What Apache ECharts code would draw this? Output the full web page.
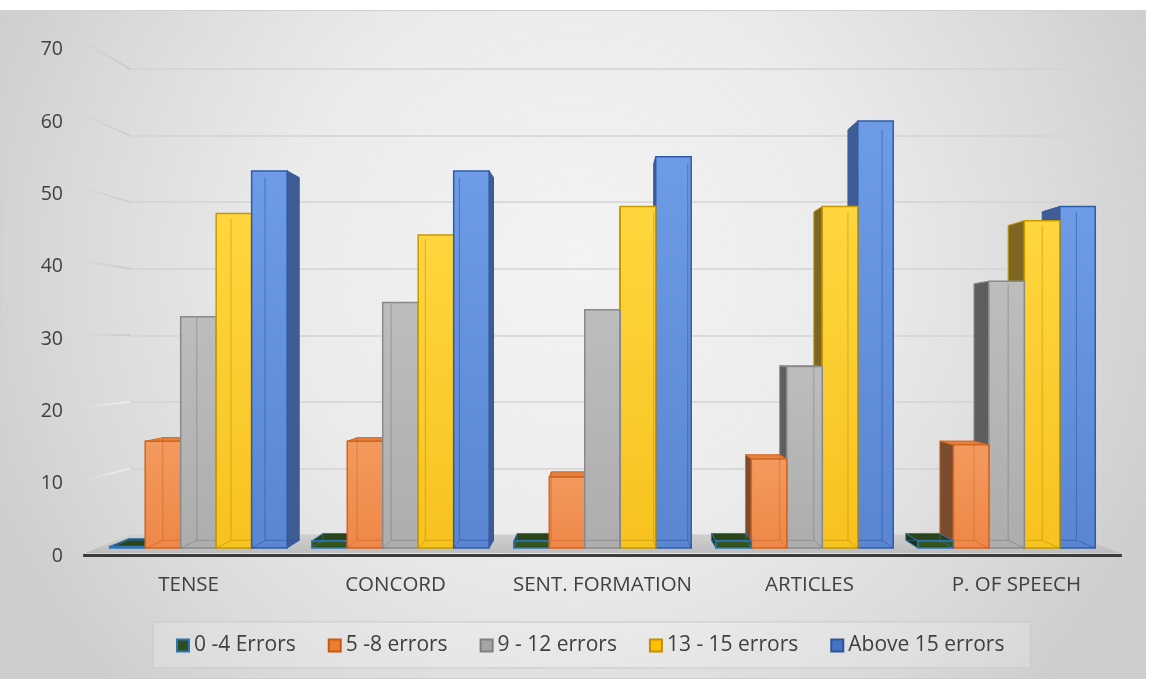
<!DOCTYPE html>
<html>
<head>
<meta charset="utf-8">
<script src="https://cdn.jsdelivr.net/npm/echarts@6/dist/echarts.min.js"></script>
<style>
  html, body { margin: 0; padding: 0; background: #ffffff; }
  #chart { width: 1153px; height: 679px; }
</style>
</head>
<body>
<div id="chart"></div>
<script>
// ---- data ----
const categories = ['TENSE', 'CONCORD', 'SENT. FORMATION', 'ARTICLES', 'P. OF SPEECH'];
const seriesNames = ['0 -4 Errors', '5 -8 errors', '9 - 12 errors', '13 - 15 errors', 'Above 15 errors'];
const errors0to4 = [0, 1, 1, 1, 1];
const errors5to8 = [15, 15, 10, 12.5, 14.5];
const errors9to12 = [32.5, 34.5, 33.5, 25.5, 37.5];
const errors13to15 = [47, 44, 48, 48, 46];
const errorsAbove15 = [53, 53, 55, 60, 48];
const yTicks = [0, 10, 20, 30, 40, 50, 60, 70];

const seriesValues = [errors0to4, errors5to8, errors9to12, errors13to15, errorsAbove15];

// ---- styling ----
const FONT = '"Open Sans", Lato, sans-serif';
const TEXT_COLOR = '#404040';
const PALETTE = [
  { face: '#2F4D1D', light: '#365820', top: '#2A4419', side: '#1E3311', border: '#2E75B6', edge: 'rgba(46,117,182,0.6)' },
  { face: '#EE8748', light: '#F39A5E', top: '#E58040', side: '#7B4C2F', border: '#D2651F', edge: 'rgba(196,92,26,0.45)' },
  { face: '#ADADAD', light: '#BDBDBD', top: '#A8A8A8', side: '#5E5E5E', border: '#8A8A8A', edge: 'rgba(110,110,110,0.45)' },
  { face: '#F8C21F', light: '#FFD63E', top: '#F0BC1A', side: '#7D6522', border: '#C49A00', edge: 'rgba(180,138,0,0.5)' },
  { face: '#5A86D1', light: '#6E9BE6', top: '#5581CC', side: '#3F5D94', border: '#2F5CA8', edge: 'rgba(36,76,156,0.5)' }
];
const LEGEND_COLORS = [
  { color: '#2F4D1D', borderColor: '#2E75B6' },
  { color: '#ED7D31', borderColor: '#C55A11' },
  { color: '#A5A5A5', borderColor: '#7F7F7F' },
  { color: '#FFC000', borderColor: '#BF9000' },
  { color: '#4472C4', borderColor: '#2F5597' }
];

// ---- simple perspective: back wall = cartesian grid, nearer planes scaled about a vanishing point ----
const HORIZON = 0.594;      // vanishing point height as a fraction of the plot
const S_FRONT = 1.069;      // bar front faces
const S_BACK = 1.028;       // bar back faces
const S_FLOOR = 1.095;      // front edge of the floor
const S_LABEL = 1.086;      // value-label spacing on the side wall
const GROUP_FRAC = 0.878;   // share of a category band used by its bars
const MIN_H = 1.5;          // thinnest visible slab

function vanish(cs) {
  return [cs.x + cs.width / 2, cs.y + cs.height * HORIZON];
}
function project(p, s, c) {
  return [c[0] + s * (p[0] - c[0]), c[1] + s * (p[1] - c[1])];
}

function barRenderer(k) {
  const pal = PALETTE[k];
  return function (params, api) {
    const ci = api.value(0);
    const v = api.value(1);
    const cs = params.coordSys;
    const c = vanish(cs);
    const topPt = api.coord([ci, v]);
    const basePt = api.coord([ci, 0]);
    const bw = api.size([1, 0])[0] * GROUP_FRAC / 5;
    const xl = topPt[0] + (k - 2.5) * bw;
    const xr = xl + bw;
    const yb = basePt[1];
    const yt = Math.min(topPt[1], yb - MIN_H);
    const f = p => project(p, S_FRONT, c);
    const b = p => project(p, S_BACK, c);
    const FLT = f([xl, yt]), FRT = f([xr, yt]), FRB = f([xr, yb]), FLB = f([xl, yb]);
    const BLT = b([xl, yt]), BRT = b([xr, yt]), BRB = b([xr, yb]), BLB = b([xl, yb]);
    const mid = (xl + xr) / 2;
    const leftSide = mid < c[0];
    const z = 1000 - Math.abs(mid - c[0]);
    const children = [];

    // side face turned toward the vanishing point
    children.push({
      type: 'polygon', z2: z,
      shape: { points: leftSide ? [FRT, BRT, BRB, FRB] : [FLT, BLT, BLB, FLB] },
      style: { fill: pal.side, stroke: pal.border, lineWidth: 1 }
    });
    // top face when it lies below the horizon
    if (BLT[1] < FLT[1]) {
      children.push({
        type: 'polygon', z2: z + 0.1,
        shape: { points: [FLT, FRT, BRT, BLT] },
        style: { fill: pal.top, stroke: pal.border, lineWidth: 1 }
      });
    }
    // front face
    children.push({
      type: 'polygon', z2: z + 0.2,
      shape: { points: [FLT, FRT, FRB, FLB] },
      style: {
        fill: {
          type: 'linear', x: 0, y: 0, x2: 0, y2: 1,
          colorStops: [{ offset: 0, color: pal.light }, { offset: 1, color: pal.face }]
        },
        stroke: pal.border, lineWidth: 1.5
      }
    });
    // hidden back edges seen through the glassy faces
    children.push({
      type: 'polyline', z2: z + 0.3,
      shape: { points: leftSide ? [BLT, BLB, BRB] : [BRT, BRB, BLB] },
      style: { stroke: pal.edge, lineWidth: 1, fill: null }
    });
    children.push({
      type: 'polyline', z2: z + 0.3,
      shape: { points: leftSide ? [FLB, BLB] : [FRB, BRB] },
      style: { stroke: pal.edge, lineWidth: 1, fill: null }
    });
    return { type: 'group', children: children };
  };
}

// floor, side wall grid lines and value labels
function wallRenderer(params, api) {
  const v = api.value(1);
  const cs = params.coordSys;
  const c = vanish(cs);
  const p = api.coord([0, v]);
  const zero = api.coord([0, 0]);
  const back = [cs.x, p[1]];
  const front = project(back, S_FLOOR, c);
  const children = [];
  if (v > 0) {
    children.push({
      type: 'line',
      shape: { x1: front[0], y1: front[1], x2: back[0], y2: back[1] },
      style: {
        stroke: {
          type: 'linear', x: 0, y: 0, x2: 1, y2: 0,
          colorStops: v <= 20
            ? [{ offset: 0, color: 'rgba(255,255,255,0.05)' }, { offset: 1, color: 'rgba(255,255,255,0.6)' }]
            : [{ offset: 0, color: 'rgba(185,185,185,0.1)' }, { offset: 1, color: 'rgba(185,185,185,0.6)' }]
        },
        lineWidth: 1.5
      }
    });
  } else {
    const bl = [cs.x, zero[1]], br = [cs.x + cs.width, zero[1]];
    const fl = project(bl, S_FLOOR, c), fr = project(br, S_FLOOR, c);
    children.push({
      type: 'polygon',
      shape: { points: [bl, br, fr, fl] },
      style: {
        fill: {
          type: 'linear', x: 0, y: 0, x2: 0, y2: 1,
          colorStops: [{ offset: 0, color: '#cfcfcf' }, { offset: 1, color: '#bdbdbd' }]
        }
      }
    });
    children.push({
      type: 'rect',
      shape: { x: fl[0] - 2, y: fl[1] + 1, width: fr[0] - fl[0] + 4, height: 3 },
      style: { fill: '#3b3b3b' }
    });
  }
  const labelY = zero[1] + 21 + (p[1] - zero[1]) * S_LABEL;
  children.push({
    type: 'text', x: 63, y: labelY,
    style: { text: String(v), fill: TEXT_COLOR, font: '19.5px ' + FONT, align: 'right', verticalAlign: 'middle' }
  });
  return { type: 'group', children: children };
}

// category names set along the front edge of the floor
function categoryRenderer(params, api) {
  const i = api.value(0);
  const cs = params.coordSys;
  const c = vanish(cs);
  const p = api.coord([i, 0]);
  const fp = project(p, S_FLOOR, c);
  return {
    type: 'text', x: fp[0], y: fp[1] + 32,
    style: { text: categories[i], fill: TEXT_COLOR, font: '20.5px ' + FONT, align: 'center', verticalAlign: 'middle' }
  };
}

const barSeries = seriesNames.map((name, k) => ({
  type: 'custom',
  name: name,
  z: 3,
  renderItem: barRenderer(k),
  itemStyle: { color: LEGEND_COLORS[k].color, borderColor: LEGEND_COLORS[k].borderColor, borderWidth: 1.5 },
  encode: { x: 0, y: 1 },
  data: seriesValues[k].map((v, i) => [i, v])
}));

const chart = echarts.init(document.getElementById('chart'), null, { renderer: 'canvas' });
chart.setOption({
  animation: false,
  backgroundColor: '#ffffff',
  graphic: [{
    type: 'rect', z: -10, silent: true,
    shape: { x: 0.5, y: 10.5, width: 1145, height: 668 },
    style: {
      fill: {
        type: 'radial', x: 0.5, y: 0.38, r: 0.95,
        colorStops: [
          { offset: 0, color: '#f3f3f3' },
          { offset: 0.45, color: '#ebebeb' },
          { offset: 0.8, color: '#d9d9d9' },
          { offset: 1, color: '#cdcdcd' }
        ]
      },
      stroke: '#d0d0d0', lineWidth: 1
    }
  }],
  grid: { left: 130, right: 78, top: 69, bottom: 144, containLabel: false },
  xAxis: {
    type: 'category', data: categories, boundaryGap: true,
    axisLine: { show: false }, axisTick: { show: false }, axisLabel: { show: false }, splitLine: { show: false }
  },
  yAxis: {
    type: 'value', min: 0, max: 70, interval: 10,
    axisLine: { show: false }, axisTick: { show: false }, axisLabel: { show: false },
    splitLine: { show: true, lineStyle: { color: '#d3d3d3', width: 1.5 } }
  },
  legend: {
    data: seriesNames,
    left: 153, top: 622,
    icon: 'rect', itemWidth: 12, itemHeight: 12, itemGap: 32,
    padding: [13, 26, 12, 23],
    backgroundColor: 'rgba(255,255,255,0.18)',
    borderColor: '#c9c9c9', borderWidth: 1,
    textStyle: { fontFamily: FONT, fontSize: 21, color: TEXT_COLOR },
    selectedMode: false
  },
  tooltip: { show: false },
  series: [
    {
      type: 'custom', name: 'walls', z: 1, silent: true,
      renderItem: wallRenderer,
      encode: { x: 0, y: 1 },
      data: yTicks.map(v => [0, v])
    },
    {
      type: 'custom', name: 'categories', z: 1, silent: true,
      renderItem: categoryRenderer,
      encode: { x: 0, y: 1 },
      data: categories.map((c, i) => [i, 0])
    }
  ].concat(barSeries)
});
</script>
</body>
</html>
